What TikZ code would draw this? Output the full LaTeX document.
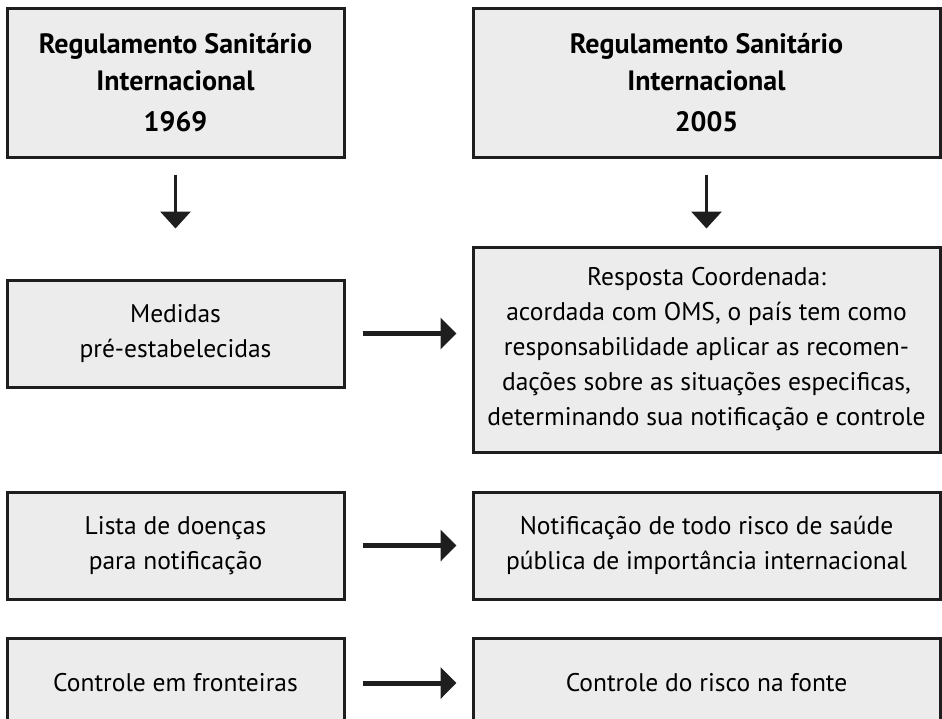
\documentclass[tikz,border=0pt]{standalone}
\usepackage{fontspec}
\setmainfont{PT Sans}
\usetikzlibrary{arrows.meta}

\definecolor{boxgray}{HTML}{EBECEB}
\definecolor{boxline}{HTML}{1E1E1E}

\begin{document}
\begin{tikzpicture}[x=1pt, y=-1pt]
            \useasboundingbox (0,0) rectangle (942,718);
            \begin{scope}[every node/.style={rectangle, draw=boxline, line width=3pt, fill=boxgray,
                          align=center, inner sep=0pt, font=\fontsize{25.5}{35}\selectfont}]
                \node (R69) [minimum width=337, minimum height=149, font=\fontsize{28}{37}\selectfont\bfseries] at (175.5, 82.5) {Regulamento Sanitário\\Internacional\\[4pt]1969};
                \node (R05) [minimum width=467, minimum height=149, font=\fontsize{28}{37}\selectfont\bfseries] at (706.5, 82.5) {Regulamento Sanitário\\Internacional\\[4pt]2005};
                \node (Med) [minimum width=337, minimum height=107] at (175.5, 333.5) {Medidas\\pré-estabelecidas};
                \node (Resp) [minimum width=467, minimum height=205] at (706.5, 349.5) {Resposta Coordenada:\\acordada com OMS, o país tem como\\responsabilidade aplicar as recomen-\\dações sobre as situações especificas,\\determinando sua notificação e controle};
                \node (Lista) [minimum width=337, minimum height=107] at (175.5, 545.5) {Lista de doenças\\para notificação};
                \node (Notif) [minimum width=467, minimum height=107] at (706.5, 545.5) {Notificação de todo risco de saúde\\pública de importância internacional};
                \node (Front) [minimum width=337, minimum height=90] at (175.5, 683) {Controle em fronteiras};
                \node (Fonte) [minimum width=467, minimum height=90] at (706.5, 683) {Controle do risco na fonte};
            \end{scope}

            \begin{scope}[every edge/.style={draw=boxline}]
                \path [-{Triangle[length=17pt, width=30pt]}, line width=3.5pt] (R69) edge[shorten <=16pt, shorten >=50pt] (Med);
                \path [-{Triangle[length=17pt, width=30pt]}, line width=3.5pt] (R05) edge[shorten <=16pt, shorten >=17pt] (Resp);
                \path [-{Triangle[length=16pt, width=31pt]}, line width=5pt] (Med.east) edge[shorten <=17pt, shorten >=15pt] (Med.east -| Resp.west);
                \path [-{Triangle[length=16pt, width=31pt]}, line width=5pt] (Lista) edge[shorten <=17pt, shorten >=15pt] (Notif);
                \path [-{Triangle[length=16pt, width=31pt]}, line width=5pt] (Front) edge[shorten <=17pt, shorten >=15pt] (Fonte);
            \end{scope}
        \end{tikzpicture}
\end{document}
